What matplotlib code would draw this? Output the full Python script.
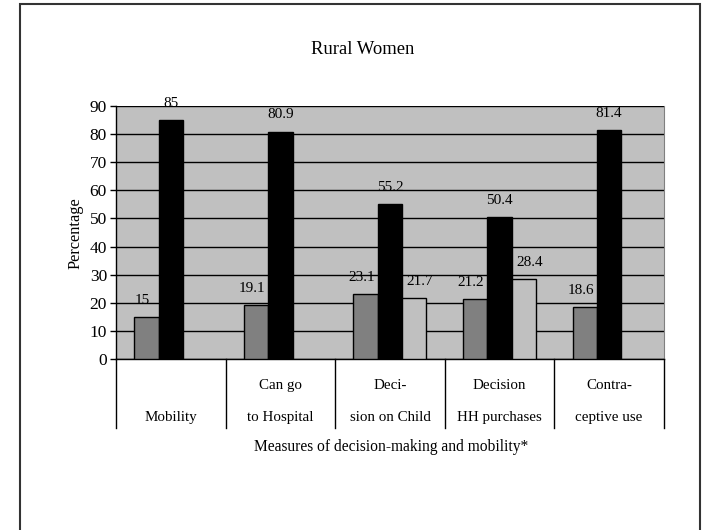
import matplotlib
matplotlib.use("Agg")
import matplotlib.pyplot as plt
import numpy as np
from matplotlib.patches import Rectangle

# ── data ──────────────────────────────────────────────────────────────────────
categories_top = ["", "Can go", "Deci-", "Decision", "Contra-"]
categories_bot = ["Mobility", "to Hospital", "sion on Child", "HH purchases", "ceptive use"]
series_a = [15, 19.1, 23.1, 21.2, 18.6]          # dark gray
series_b = [85, 80.9, 55.2, 50.4, 81.4]          # black
series_c = [None, None, 21.7, 28.4, None]        # light gray
yticks = list(range(0, 91, 10))

plt.rcParams["font.family"] = ["Liberation Serif", "DejaVu Serif"]

fig = plt.figure(figsize=(7.02, 5.30), dpi=100)
ax = fig.add_axes([0.1652, 0.3226, 0.7806, 0.4774])
ax.set_facecolor("#C0C0C0")

# outer chart border
fig.patches.append(Rectangle((0.0285, -0.02), 0.9685, 1.0125, transform=fig.transFigure,
                             fill=False, edgecolor="#333333", linewidth=1.5))

x = np.arange(len(series_b))
w = 1 / 4.5
offsets = [-w, 0, w]
colors = ["#808080", "#000000", "#C0C0C0"]
label_dx = [-3, 0, 4]

for s, (vals, col) in enumerate(zip([series_a, series_b, series_c], colors)):
    for i, v in enumerate(vals):
        if v is None:
            continue
        ax.bar(x[i] + offsets[s], v, width=w, color=col, edgecolor="black",
               linewidth=1, zorder=3)
        ax.annotate(f"{v:g}", (x[i] + offsets[s], v), xytext=(label_dx[s], 12),
                    textcoords="offset points", ha="center", va="center",
                    fontsize=11, zorder=4)

ax.set_xlim(-0.5, len(x) - 0.5)
ax.set_ylim(0, 90)
ax.set_yticks(yticks)
ax.tick_params(axis="y", labelsize=12.5, length=4.5, width=1, direction="out", pad=2)
ax.set_xticks([])
ax.yaxis.grid(True, color="black", linewidth=1, zorder=1)
ax.set_axisbelow(True)

ax.spines["top"].set_visible(False)
ax.spines["right"].set_color("#808080")
ax.spines["left"].set_linewidth(1)
ax.spines["bottom"].set_linewidth(1)

# multi-level category boxes
trans = ax.get_xaxis_transform()
for b in np.arange(-0.5, len(x), 1.0):
    ax.plot([b, b], [0, -0.273], transform=trans, color="black", linewidth=1,
            clip_on=False)
for i in range(len(x)):
    if categories_top[i]:
        ax.text(x[i], -0.103, categories_top[i], transform=trans, ha="center",
                va="center", fontsize=10.8)
    ax.text(x[i], -0.233, categories_bot[i], transform=trans, ha="center",
            va="center", fontsize=10.8)

fig.text(0.557, 0.1566, "Measures of decision-making and mobility*", ha="center",
         va="center", fontsize=11.2)
fig.text(0.108, 0.561, "Percentage", rotation=90, ha="center", va="center",
         fontsize=11.8)
fig.text(0.517, 0.9057, "Rural Women", ha="center", va="center", fontsize=13.4)

fig.savefig("out.png", dpi=100)
